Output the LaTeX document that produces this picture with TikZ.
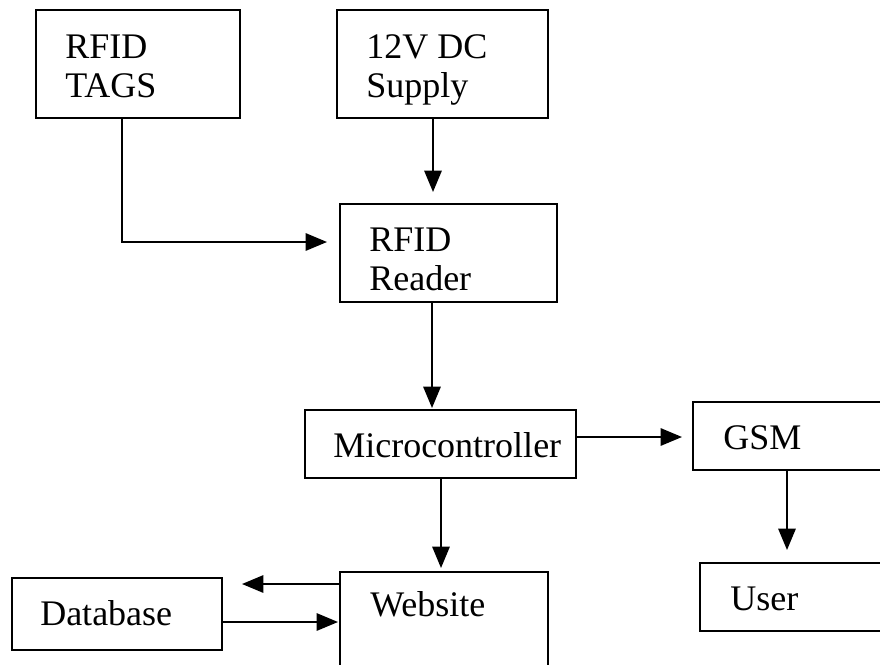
\documentclass[tikz,border=0pt]{standalone}
\usepackage{fontspec}
\setmainfont{Liberation Serif}
\usetikzlibrary{arrows.meta,fit}
\begin{document}
\begin{tikzpicture}[x=0.75pt,y=-0.75pt,
 box/.style={draw, line width=1.5pt, inner sep=0pt, rectangle},
 txt/.style={font=\fontsize{27}{29.25}\selectfont, inner sep=0pt, align=left, anchor=base west},
 arr/.style={line width=1.4pt, -{Triangle[length=16pt,width=13pt]}}]
\useasboundingbox (0,0) rectangle (880,664);
\clip (0,0) rectangle (880,664);
% boxes
\node[box, fit={(36,10) (240,118)}] (tags) {};
\node[box, fit={(337,10) (548,118)}] (supply) {};
\node[box, fit={(340,204) (557,302)}] (reader) {};
\node[box, fit={(305,410) (576,478)}] (micro) {};
\node[box, fit={(693,402) (910,470)}] (gsm) {};
\node[box, fit={(700,563) (910,631)}] (user) {};
\node[box, fit={(12,578) (222,650)}] (db) {};
\node[box, fit={(340,572) (548,690)}] (web) {};
% texts (base anchor = baseline of the last line)
\node[txt] (tagsT) at (65,97) {RFID\\TAGS};
\node[txt] (supplyT) at (366,97) {12V DC\\Supply};
\node[txt] (readerT) at (369,290) {RFID\\Reader};
\node[txt] (microT) at (333,457) {Microcontroller};
\node[txt] (gsmT) at (723,449) {GSM};
\node[txt] (userT) at (730,610) {User};
\node[txt] (dbT) at (40,625) {Database};
\node[txt] (webT) at (370,616) {Website};
% connectors
\coordinate (bend) at (122,242);
\coordinate (tEnd) at (327,242);
\draw[arr] (tags.south -| bend) -- (bend) -- (tEnd);
\coordinate (sEnd) at (433,192);
\draw[arr] (supply.south -| sEnd) -- (sEnd);
\coordinate (rEnd) at (432,408);
\draw[arr] (reader.south -| rEnd) -- (rEnd);
\coordinate (mEnd) at (441,568);
\draw[arr] (micro.south -| mEnd) -- (mEnd);
\coordinate (gEnd) at (682,437);
\draw[arr] (micro.east |- gEnd) -- (gEnd);
\coordinate (uEnd) at (787,550);
\draw[arr] (gsm.south -| uEnd) -- (uEnd);
\coordinate (dbEnd) at (242,584);
\draw[arr] (web.west |- dbEnd) -- (dbEnd);
\coordinate (wEnd) at (338,622);
\draw[arr] (db.east |- wEnd) -- (wEnd);
\end{tikzpicture}
\end{document}
